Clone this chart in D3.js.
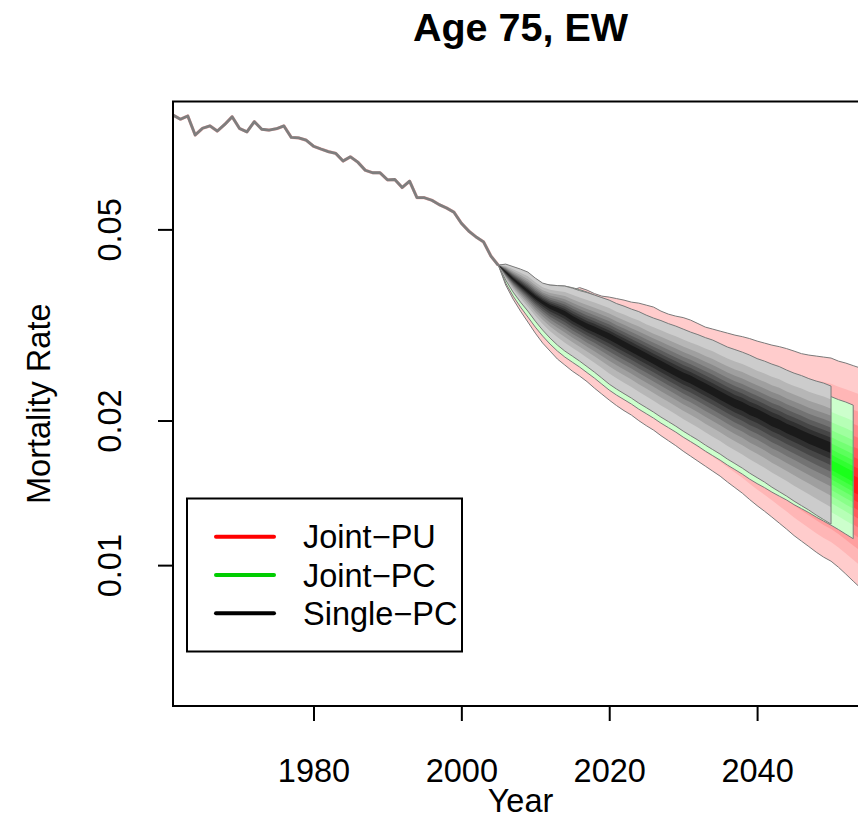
<!DOCTYPE html>
<html>
<head>
<meta charset="utf-8">
<script src="https://cdn.jsdelivr.net/npm/d3@7"></script>
<style>
  html, body { margin: 0; padding: 0; background: #ffffff; }
  svg { display: block; font-family: "Liberation Sans", Arial, Helvetica, sans-serif; }
</style>
</head>
<body>
<svg id="chart" width="858" height="818"></svg>
<script>
// ---- data -------------------------------------------------------------
const historyStart = 1961;
const forecastStart = 2005;

// observed mortality rate, age 75, England & Wales, 1961-2005
const observedRate = [
  0.0865, 0.0848, 0.0861, 0.0786, 0.0812, 0.0821, 0.0801, 0.0827, 0.0858, 0.0811,
  0.0798, 0.0838, 0.0808, 0.0805, 0.0810, 0.0821, 0.0777, 0.0775, 0.0767, 0.0745,
  0.0735, 0.0726, 0.0720, 0.0694, 0.0708, 0.0690, 0.0664, 0.0656, 0.0656, 0.0634,
  0.0635, 0.0611, 0.0630, 0.0582, 0.0582, 0.0575, 0.0563, 0.0554, 0.0543, 0.0515,
  0.0496, 0.0482, 0.0471, 0.0440, 0.0421
];

// Joint-PU forecast, 2005-2055: 5% / 50% / 95% quantiles
const jointPUUpper = [
  0.04213, 0.04193, 0.04133, 0.04074, 0.03997, 0.03902, 0.03810, 0.03773, 0.03755, 0.03737,
  0.03737, 0.03782, 0.03737, 0.03675, 0.03631, 0.03614, 0.03588, 0.03562, 0.03528, 0.03511,
  0.03478, 0.03445, 0.03379, 0.03331, 0.03299, 0.03276, 0.03237, 0.03183, 0.03130, 0.03100,
  0.03070, 0.03041, 0.03012, 0.02990, 0.02962, 0.02927, 0.02899, 0.02871, 0.02850, 0.02823,
  0.02790, 0.02756, 0.02737, 0.02724, 0.02711, 0.02698, 0.02659, 0.02634, 0.02602, 0.02571, 0.02547
];
const jointPUMedian = [
  0.04213, 0.04035, 0.03883, 0.03755, 0.03631, 0.03511, 0.03412, 0.03331, 0.03268, 0.03206,
  0.03145, 0.03085, 0.03027, 0.02969, 0.02913, 0.02857, 0.02803, 0.02750, 0.02698, 0.02646,
  0.02590, 0.02535, 0.02481, 0.02428, 0.02381, 0.02331, 0.02281, 0.02232, 0.02185, 0.02143,
  0.02097, 0.02053, 0.02014, 0.01971, 0.01929, 0.01892, 0.01852, 0.01812, 0.01778, 0.01740,
  0.01703, 0.01670, 0.01639, 0.01607, 0.01577, 0.01547, 0.01521, 0.01496, 0.01471, 0.01446, 0.01422
];
const jointPULower = [
  0.04213, 0.03828, 0.03579, 0.03379, 0.03206, 0.03041, 0.02899, 0.02790, 0.02685, 0.02609,
  0.02535, 0.02475, 0.02410, 0.02336, 0.02270, 0.02206, 0.02148, 0.02097, 0.02053, 0.01999,
  0.01952, 0.01910, 0.01860, 0.01816, 0.01773, 0.01727, 0.01686, 0.01646, 0.01607, 0.01569,
  0.01532, 0.01489, 0.01450, 0.01412, 0.01369, 0.01330, 0.01295, 0.01259, 0.01223, 0.01188,
  0.01152, 0.01122, 0.01093, 0.01064, 0.01039, 0.01019, 0.00990, 0.00958, 0.00926, 0.00896, 0.00866
];

// Joint-PC forecast, 2005-2053
const jointPCUpper = [
  0.04213, 0.04213, 0.04153, 0.04094, 0.04035, 0.03940, 0.03846, 0.03828, 0.03819, 0.03810,
  0.03782, 0.03746, 0.03702, 0.03649, 0.03597, 0.03545, 0.03495, 0.03445, 0.03396, 0.03347,
  0.03299, 0.03252, 0.03206, 0.03160, 0.03115, 0.03063, 0.03019, 0.02969, 0.02927, 0.02878,
  0.02830, 0.02783, 0.02737, 0.02698, 0.02653, 0.02609, 0.02571, 0.02529, 0.02486, 0.02451,
  0.02410, 0.02376, 0.02342, 0.02308, 0.02275, 0.02243, 0.02211, 0.02185, 0.02153
];
const jointPCMedian = [
  0.04213, 0.04045, 0.03902, 0.03773, 0.03649, 0.03545, 0.03445, 0.03363, 0.03299, 0.03237,
  0.03168, 0.03107, 0.03048, 0.02990, 0.02934, 0.02878, 0.02817, 0.02763, 0.02711, 0.02659,
  0.02609, 0.02559, 0.02510, 0.02463, 0.02416, 0.02370, 0.02325, 0.02281, 0.02238, 0.02195,
  0.02153, 0.02112, 0.02072, 0.02033, 0.01994, 0.01957, 0.01919, 0.01883, 0.01847, 0.01812,
  0.01778, 0.01744, 0.01711, 0.01678, 0.01646, 0.01615, 0.01584, 0.01554, 0.01525
];
const jointPCLower = [
  0.04213, 0.03865, 0.03631, 0.03445, 0.03284, 0.03130, 0.02998, 0.02885, 0.02790, 0.02711,
  0.02646, 0.02584, 0.02516, 0.02451, 0.02381, 0.02314, 0.02259, 0.02211, 0.02164, 0.02112,
  0.02067, 0.02023, 0.01975, 0.01933, 0.01892, 0.01847, 0.01808, 0.01769, 0.01727, 0.01690,
  0.01654, 0.01615, 0.01581, 0.01547, 0.01510, 0.01478, 0.01450, 0.01419, 0.01392, 0.01366,
  0.01336, 0.01311, 0.01286, 0.01259, 0.01235, 0.01211, 0.01186, 0.01160, 0.01135
];

// Single-PC forecast, 2005-2050
const singlePCUpper = [
  0.04213, 0.04233, 0.04183, 0.04133, 0.04074, 0.03959, 0.03865, 0.03828, 0.03819, 0.03810,
  0.03773, 0.03728, 0.03693, 0.03649, 0.03605, 0.03562, 0.03503, 0.03461, 0.03412, 0.03371,
  0.03315, 0.03268, 0.03229, 0.03183, 0.03145, 0.03100, 0.03056, 0.03019, 0.02976, 0.02941,
  0.02892, 0.02844, 0.02810, 0.02776, 0.02737, 0.02691, 0.02659, 0.02621, 0.02590, 0.02547,
  0.02510, 0.02481, 0.02445, 0.02416, 0.02393, 0.02359
];
const singlePCMedian = [
  0.04213, 0.04074, 0.03940, 0.03828, 0.03719, 0.03614, 0.03528, 0.03453, 0.03404, 0.03347,
  0.03268, 0.03206, 0.03145, 0.03100, 0.03048, 0.02998, 0.02941, 0.02885, 0.02830, 0.02776,
  0.02724, 0.02672, 0.02621, 0.02571, 0.02522, 0.02475, 0.02439, 0.02393, 0.02347, 0.02303,
  0.02259, 0.02216, 0.02174, 0.02143, 0.02102, 0.02072, 0.02033, 0.01994, 0.01966, 0.01929,
  0.01901, 0.01869, 0.01838, 0.01812, 0.01786, 0.01761
];
const singlePCLower = [
  0.04213, 0.03921, 0.03702, 0.03528, 0.03379, 0.03221, 0.03085, 0.02969, 0.02871, 0.02790,
  0.02724, 0.02659, 0.02590, 0.02522, 0.02451, 0.02381, 0.02325, 0.02275, 0.02227, 0.02174,
  0.02128, 0.02082, 0.02033, 0.01990, 0.01947, 0.01901, 0.01860, 0.01821, 0.01778, 0.01740,
  0.01703, 0.01662, 0.01627, 0.01592, 0.01554, 0.01521, 0.01489, 0.01453, 0.01422, 0.01392,
  0.01359, 0.01330, 0.01302, 0.01271, 0.01244, 0.01217
];

// upper probability of each fan band edge (the 95% edge is the outer bound)
const bandLevels = [0.55, 0.60, 0.65, 0.70, 0.75, 0.80, 0.85, 0.90, 0.95];

const seriesNames = ["Joint\u2212PU", "Joint\u2212PC", "Single\u2212PC"];
const seriesColors = ["#ff0000", "#00ff00", "#000000"];
const legendColors = ["#ff0000", "#00cd00", "#000000"];

const xTicks = [1980, 2000, 2020, 2040];
const yTicks = [0.01, 0.02, 0.05];

// ---- helpers ----------------------------------------------------------
// inverse standard normal CDF (Acklam), central region
function qnorm(p) {
  const a = [-3.969683028665376e+01, 2.209460984245205e+02, -2.759285104469687e+02,
              1.383577518672690e+02, -3.066479806614716e+01, 2.506628277459239e+00];
  const b = [-5.447609879822406e+01, 1.615858368580409e+02, -1.556989798598866e+02,
              6.680131188771972e+01, -1.328068155288572e+01];
  const q = p - 0.5, r = q * q;
  return (((((a[0]*r + a[1])*r + a[2])*r + a[3])*r + a[4])*r + a[5]) * q /
         (((((b[0]*r + b[1])*r + b[2])*r + b[3])*r + b[4])*r + 1);
}

function toRows(start, lower, median, upper) {
  return median.map((m, i) => ({ year: start + i, lower: lower[i], median: m, upper: upper[i] }));
}

const fans = [
  { name: seriesNames[0], color: seriesColors[0], rows: toRows(forecastStart, jointPULower, jointPUMedian, jointPUUpper) },
  { name: seriesNames[1], color: seriesColors[1], rows: toRows(forecastStart, jointPCLower, jointPCMedian, jointPCUpper) },
  { name: seriesNames[2], color: seriesColors[2], rows: toRows(forecastStart, singlePCLower, singlePCMedian, singlePCUpper) }
];
const observed = observedRate.map((v, i) => ({ year: historyStart + i, rate: v }));

// ---- layout -----------------------------------------------------------
const svg = d3.select("#chart");
const plot = { left: 173, right: 868, top: 101.5, bottom: 706 };
const fontSize = 32.5;
const fontFamily = "Liberation Sans, Arial, sans-serif";

const x = d3.scaleLinear().domain([1961, 2055]).range([plot.left, plot.right]);
const y = d3.scaleLog().domain([0.00509, 0.0923]).range([plot.bottom, plot.top]);

svg.append("defs").append("clipPath").attr("id", "plotClip")
  .append("rect")
  .attr("x", plot.left).attr("y", plot.top)
  .attr("width", plot.right - plot.left).attr("height", plot.bottom - plot.top);

const body = svg.append("g").attr("clip-path", "url(#plotClip)");

// ---- fans -------------------------------------------------------------
const zOuter = qnorm(bandLevels[bandLevels.length - 1]);
const fractions = bandLevels.map(p => qnorm(p) / zOuter);

function between(m, b, f) {
  return Math.exp(Math.log(m) + f * (Math.log(b) - Math.log(m)));
}

fans.forEach(fan => {
  const g = body.append("g").attr("class", "fan");
  const n = fractions.length;
  // outermost band first, inner bands painted on top
  for (let k = n - 1; k >= 0; k--) {
    const f = fractions[k];
    const t = 0.1 + 0.7 * k / (n - 1);
    const fill = d3.interpolateRgb(fan.color, "#ffffff")(t);
    const area = d3.area()
      .x(d => x(d.year))
      .y0(d => y(between(d.median, d.lower, f)))
      .y1(d => y(between(d.median, d.upper, f)));
    g.append("path").datum(fan.rows).attr("d", area).attr("fill", fill).attr("stroke", "none");
  }
  const outline = d3.area()
    .x(d => x(d.year))
    .y0(d => y(d.lower))
    .y1(d => y(d.upper));
  g.append("path").datum(fan.rows).attr("d", outline)
    .attr("fill", "none").attr("stroke", "#7a7a7a").attr("stroke-width", 1)
    .attr("stroke-linejoin", "round");
});

// ---- observed rates ---------------------------------------------------
const histLine = d3.line().x(d => x(d.year)).y(d => y(d.rate));
body.append("path").datum(observed).attr("d", histLine)
  .attr("fill", "none").attr("stroke", "#f5b0b0").attr("stroke-width", 3.2)
  .attr("stroke-linejoin", "round");
body.append("path").datum(observed).attr("d", histLine)
  .attr("fill", "none").attr("stroke", "#7e7e7e").attr("stroke-width", 2.8)
  .attr("stroke-linejoin", "round");

// ---- frame and axes ---------------------------------------------------
svg.append("rect")
  .attr("x", plot.left).attr("y", plot.top)
  .attr("width", plot.right - plot.left).attr("height", plot.bottom - plot.top)
  .attr("fill", "none").attr("stroke", "#000").attr("stroke-width", 2);

const xAxis = svg.append("g")
  .attr("transform", `translate(0,${plot.bottom})`)
  .call(d3.axisBottom(x).tickValues(xTicks).tickFormat(d3.format("d")).tickSize(15));
xAxis.select(".domain").remove();
xAxis.selectAll(".tick line").attr("stroke", "#000").attr("stroke-width", 2);
xAxis.selectAll(".tick text")
  .attr("y", 76).attr("dy", null)
  .attr("fill", "#000").attr("font-size", fontSize)
  .attr("font-family", fontFamily);

const yAxis = svg.append("g")
  .attr("transform", `translate(${plot.left},0)`)
  .call(d3.axisLeft(y).tickValues(yTicks).tickFormat(d3.format(".2f")).tickSize(15));
yAxis.select(".domain").remove();
yAxis.selectAll(".tick line").attr("stroke", "#000").attr("stroke-width", 2);
yAxis.selectAll(".tick text")
  .attr("x", null).attr("dy", null)
  .attr("text-anchor", "middle")
  .attr("transform", "translate(-52,0) rotate(-90)")
  .attr("fill", "#000").attr("font-size", fontSize)
  .attr("font-family", fontFamily);

const midX = (plot.left + plot.right) / 2;
const midY = (plot.top + plot.bottom) / 2;

svg.append("text")
  .attr("x", midX).attr("y", 812)
  .attr("text-anchor", "middle").attr("font-size", fontSize)
  .text("Year");

svg.append("text")
  .attr("transform", `translate(50,${midY}) rotate(-90)`)
  .attr("text-anchor", "middle").attr("font-size", fontSize)
  .text("Mortality Rate");

svg.append("text")
  .attr("x", midX).attr("y", 41)
  .attr("text-anchor", "middle").attr("font-size", 39.5)
  .attr("font-weight", "bold")
  .text("Age 75, EW");

// ---- legend -----------------------------------------------------------
const legend = svg.append("g").attr("transform", "translate(187,498.5)");
legend.append("rect")
  .attr("width", 275).attr("height", 153)
  .attr("fill", "#fff").attr("stroke", "#000").attr("stroke-width", 2);
seriesNames.forEach((name, i) => {
  const cy = 38.2 + i * 38.3;
  legend.append("line")
    .attr("x1", 29).attr("x2", 87).attr("y1", cy).attr("y2", cy)
    .attr("stroke", legendColors[i]).attr("stroke-width", 4).attr("stroke-linecap", "round");
  legend.append("text")
    .attr("x", 116).attr("y", cy + 11.5)
    .attr("font-size", fontSize)
    .text(name);
});
</script>
</body>
</html>
